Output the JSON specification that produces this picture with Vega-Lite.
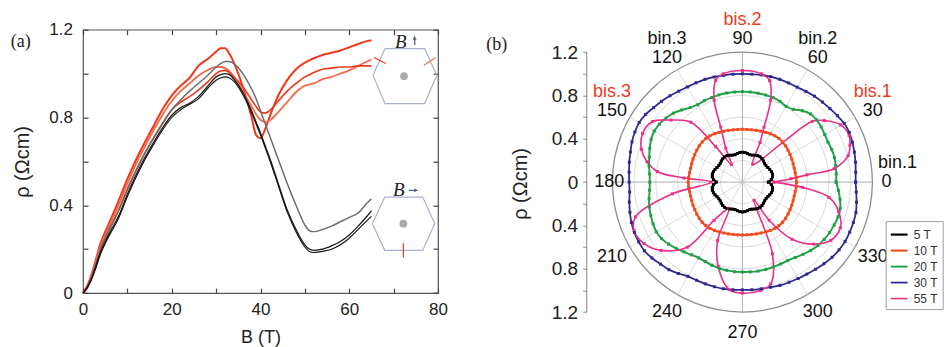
{
"$schema":"https://vega.github.io/schema/vega-lite/v6.json",
"background":"white",
"padding":{"left":10,"top":10.7,"right":0,"bottom":0},
"config":{"font":"Liberation Sans","view":{"stroke":null},"axis":{"labelFont":"Liberation Sans","titleFont":"Liberation Sans","labelColor":"#222","titleColor":"#222","titleFontWeight":"normal","grid":false,"tickColor":"#444"}},
"resolve":{"scale":{"color":"independent","strokeWidth":"independent","size":"independent"}},
"datasets":{
"rhoB":[
{"s":"R1","B":[0,1,2,3,4,5,6,8,10,12,14,16,18,20,22,24,26,28,30,31,32,33,34,36,38,39,40,41,42,44,46,48,50,51,52,54,56,58,60,62,64,65],"rho":[0,0.035,0.09,0.16,0.23,0.28,0.325,0.42,0.52,0.61,0.69,0.765,0.84,0.9,0.945,0.98,1.035,1.065,1.1,1.115,1.115,1.09,1.05,0.94,0.8,0.72,0.705,0.745,0.8,0.9,0.97,1.02,1.05,1.06,1.07,1.085,1.095,1.105,1.12,1.135,1.148,1.152]},
{"s":"R2","B":[0,1,2,3,4,5,6,8,10,12,14,16,18,20,22,24,26,28,30,31,32,33,34,36,38,39,40,41,42,44,46,48,50,51,52,54,56,58,60,62,64,65],"rho":[0,0.03,0.085,0.15,0.215,0.265,0.31,0.4,0.5,0.59,0.67,0.745,0.815,0.875,0.92,0.955,0.99,1.015,1.03,1.03,1.025,1.01,0.985,0.92,0.85,0.815,0.79,0.78,0.785,0.825,0.87,0.915,0.945,0.95,0.955,0.975,0.985,1.0,1.015,1.035,1.055,1.065]},
{"s":"R3","B":[0,1,2,3,4,5,6,8,10,12,14,16,18,20,22,24,26,28,30,31,32,33,34,36,38,39,40,41,42,44,46,48,50,51,52,54,56,58,60,62,64,65],"rho":[0,0.025,0.075,0.135,0.2,0.25,0.29,0.375,0.475,0.56,0.64,0.71,0.775,0.835,0.87,0.895,0.925,0.96,1.0,1.012,1.015,1.005,0.985,0.94,0.88,0.85,0.825,0.82,0.83,0.875,0.92,0.955,0.985,0.995,1.005,1.02,1.025,1.03,1.03,1.035,1.035,1.035]},
{"s":"G","B":[0,1,2,3,4,5,6,8,10,12,14,16,18,20,22,24,26,28,30,31,32,33,34,36,38,39,40,41,42,44,46,48,50,51,52,54,56,58,60,62,64,65],"rho":[0,0.03,0.075,0.14,0.2,0.25,0.295,0.375,0.47,0.56,0.64,0.71,0.775,0.835,0.88,0.92,0.955,0.99,1.03,1.045,1.055,1.055,1.045,1.0,0.93,0.885,0.83,0.775,0.72,0.61,0.5,0.4,0.31,0.285,0.28,0.29,0.305,0.325,0.345,0.365,0.41,0.43]},
{"s":"K2","B":[0,1,2,3,4,5,6,8,10,12,14,16,18,20,22,24,26,28,30,31,32,33,34,36,38,39,40,41,42,44,46,48,50,51,52,54,56,58,60,62,64,65],"rho":[0,0.03,0.07,0.13,0.19,0.235,0.275,0.35,0.45,0.54,0.62,0.69,0.755,0.81,0.845,0.865,0.895,0.94,0.985,0.995,1.0,0.995,0.975,0.915,0.83,0.78,0.73,0.675,0.62,0.5,0.38,0.29,0.22,0.2,0.195,0.2,0.215,0.235,0.265,0.305,0.35,0.375]},
{"s":"K1","B":[0,1,2,3,4,5,6,8,10,12,14,16,18,20,22,24,26,28,30,31,32,33,34,36,38,39,40,41,42,44,46,48,50,51,52,54,56,58,60,62,64,65],"rho":[0,0.025,0.065,0.12,0.18,0.225,0.265,0.34,0.44,0.53,0.61,0.68,0.745,0.8,0.835,0.86,0.885,0.93,0.97,0.98,0.985,0.98,0.965,0.905,0.82,0.77,0.72,0.665,0.61,0.49,0.37,0.28,0.21,0.19,0.185,0.19,0.2,0.22,0.25,0.29,0.33,0.35]}
],
"hex":[
{"h":1,"i":0,"hx":68.06,"hy":1.114},{"h":1,"i":1,"hx":77.0,"hy":1.114},{"h":1,"i":2,"hx":79.71,"hy":0.992},{"h":1,"i":3,"hx":77.0,"hy":0.863},{"h":1,"i":4,"hx":68.06,"hy":0.863},{"h":1,"i":5,"hx":65.35,"hy":0.992},{"h":1,"i":6,"hx":68.06,"hy":1.114},
{"h":2,"i":0,"hx":68.0,"hy":0.4375},{"h":2,"i":1,"hx":76.55,"hy":0.4375},{"h":2,"i":2,"hx":79.26,"hy":0.316},{"h":2,"i":3,"hx":76.55,"hy":0.1946},{"h":2,"i":4,"hx":68.0,"hy":0.1946},{"h":2,"i":5,"hx":65.21,"hy":0.316},{"h":2,"i":6,"hx":68.0,"hy":0.4375}
],
"hexdot":[{"cx":72.34,"cy":0.988},{"cx":72.2,"cy":0.316}],
"hexmark":[{"k":"r","xa":65.58,"ya":1.073,"xb":68.22,"yb":1.046},{"k":"p","xa":76.85,"ya":1.038,"xb":79.48,"yb":1.073},{"k":"g","xa":72.2,"ya":0.2265,"xb":72.2,"yb":0.1627}],
"blabel":[{"tx":71.6,"ty":1.144,"ax":74.74,"ay":1.152,"ang":0},{"tx":71.15,"ty":0.468,"ax":74.5,"ay":0.468,"ang":90}],
"rings":[{"rr":0.2},{"rr":0.4},{"rr":0.6},{"rr":0.8},{"rr":1.0},{"rr":1.2}],
"angles":[{"a":0,"t":"0"},{"a":30,"t":"30"},{"a":60,"t":"60"},{"a":90,"t":"90"},{"a":120,"t":"120"},{"a":150,"t":"150"},{"a":180,"t":"180"},{"a":210,"t":"210"},{"a":240,"t":"240"},{"a":270,"t":"270"},{"a":300,"t":"300"},{"a":330,"t":"330"}],
"ann":[{"a":30,"t":"bis.1"},{"a":60,"t":"bin.2"},{"a":90,"t":"bis.2"},{"a":120,"t":"bin.3"},{"a":150,"t":"bis.3"}],
"polar":[
{"s":"30 T","a":[0,5,10,15,20,25,30,35,40,45,50,55,60,65,70,75,80,85,90,95,100,105,110,115,120,125,130,135,140,145,150,155,160,165,170,175,180,185,190,195,200,205,210,215,220,225,230,235,240,245,250,255,260,265,270,275,280,285,290,295,300,305,310,315,320,325,330,335,340,345,350,355,360],"r":[1.045,1.05,1.06,1.07,1.08,1.088,1.085,1.07,1.055,1.045,1.035,1.022,1.012,1.01,1.01,1.008,1.005,1.0,1.0,1.0,1.0,1.005,1.01,1.012,1.015,1.025,1.04,1.055,1.07,1.09,1.1,1.095,1.085,1.07,1.06,1.05,1.045,1.045,1.06,1.075,1.09,1.1,1.105,1.105,1.09,1.07,1.055,1.03,1.005,1.0,1.0,1.0,1.0,0.998,0.995,0.998,1.0,1.005,1.015,1.02,1.028,1.037,1.05,1.065,1.08,1.09,1.095,1.093,1.09,1.085,1.07,1.055,1.045]},
{"s":"20 T","a":[0,5,10,15,20,25,30,35,40,45,50,55,60,65,70,75,80,85,90,95,100,105,110,115,120,125,130,135,140,145,150,155,160,165,170,175,180,185,190,195,200,205,210,215,220,225,230,235,240,245,250,255,260,265,270,275,280,285,290,295,300,305,310,315,320,325,330,335,340,345,350,355,360],"r":[0.865,0.87,0.875,0.88,0.878,0.872,0.878,0.888,0.893,0.89,0.86,0.82,0.808,0.822,0.83,0.832,0.833,0.835,0.835,0.835,0.835,0.833,0.83,0.83,0.825,0.84,0.87,0.9,0.92,0.935,0.94,0.93,0.91,0.89,0.875,0.86,0.855,0.86,0.875,0.89,0.9,0.91,0.918,0.91,0.89,0.865,0.84,0.82,0.808,0.81,0.818,0.825,0.827,0.83,0.83,0.832,0.834,0.834,0.834,0.834,0.836,0.85,0.87,0.892,0.91,0.922,0.93,0.935,0.94,0.935,0.915,0.89,0.865]},
{"s":"10 T","a":[0,5,10,15,20,25,30,35,40,45,50,55,60,65,70,75,80,85,90,95,100,105,110,115,120,125,130,135,140,145,150,155,160,165,170,175,180,185,190,195,200,205,210,215,220,225,230,235,240,245,250,255,260,265,270,275,280,285,290,295,300,305,310,315,320,325,330,335,340,345,350,355,360],"r":[0.5,0.498,0.495,0.495,0.498,0.503,0.508,0.514,0.52,0.524,0.525,0.522,0.515,0.507,0.5,0.495,0.49,0.488,0.488,0.488,0.49,0.495,0.5,0.507,0.515,0.522,0.525,0.524,0.52,0.514,0.508,0.503,0.498,0.495,0.495,0.498,0.5,0.498,0.495,0.495,0.498,0.503,0.508,0.514,0.52,0.524,0.525,0.522,0.515,0.507,0.5,0.495,0.49,0.488,0.488,0.488,0.49,0.495,0.5,0.507,0.515,0.522,0.525,0.524,0.52,0.514,0.508,0.503,0.498,0.495,0.495,0.498,0.5]},
{"s":"5 T","a":[0,5,10,15,20,25,30,35,40,45,50,55,60,65,70,75,80,85,90,95,100,105,110,115,120,125,130,135,140,145,150,155,160,165,170,175,180,185,190,195,200,205,210,215,220,225,230,235,240,245,250,255,260,265,270,275,280,285,290,295,300,305,310,315,320,325,330,335,340,345,350,355,360],"r":[0.24,0.268,0.282,0.287,0.285,0.278,0.27,0.266,0.268,0.275,0.282,0.285,0.282,0.274,0.265,0.262,0.268,0.274,0.276,0.274,0.268,0.262,0.265,0.274,0.282,0.285,0.282,0.275,0.268,0.266,0.27,0.278,0.285,0.287,0.282,0.268,0.24,0.268,0.282,0.287,0.285,0.278,0.27,0.266,0.268,0.275,0.282,0.285,0.282,0.274,0.265,0.262,0.268,0.274,0.276,0.274,0.268,0.262,0.265,0.274,0.282,0.285,0.282,0.275,0.268,0.266,0.27,0.278,0.285,0.287,0.282,0.268,0.24]},
{"s":"55 T","a":[0,4,6.4,8.3,14,19,23.6,30.2,37,41,44.5,60,66,68.5,71,75,80,90,100,104.7,109,111.5,116,122,127,130.7,139,146,154,162,168,173,176,180,189.5,198,204,212,220,229.8,233.5,243,247,254,263,270,279.6,285.6,292.7,302.5,305,311,319,326.6,335,343,350,355,360],"r":[0.29,0.45,0.6,0.855,1.006,1.05,1.075,1.05,0.945,0.855,0.52,0.19,0.4,0.545,0.8,0.97,1.015,1.03,1.015,0.97,0.8,0.545,0.35,0.19,0.41,0.73,0.873,1.0,1.025,0.98,0.9,0.79,0.54,0.29,0.655,1.037,1.095,1.07,0.98,0.786,0.44,0.275,0.585,0.81,1.0,1.025,1.014,0.975,0.718,0.2,0.43,0.698,0.873,0.977,0.998,0.93,0.812,0.556,0.29]}
]
},
"hconcat":[
{
"width":355,"height":263.4,
"view":{"stroke":"#555","strokeWidth":1.2},
"resolve":{"axis":{"x":"independent","y":"independent"}},
"layer":[
{"data":{"name":"rhoB"},"transform":[{"flatten":["B","rho"]}],
"mark":{"type":"line","interpolate":"monotone"},
"encoding":{
"x":{"field":"B","type":"quantitative","scale":{"domain":[0,80],"nice":false,"zero":false},"axis":{"values":[0,10,20,30,40,50,60,70,80],"labelExpr":"datum.value % 20 == 0 ? datum.label : ''","domain":false,"offset":-5,"tickSize":5,"tickWidth":1.2,"labelPadding":8.8,"labelFontSize":17,"labelFlush":false,"labelOverlap":false,"title":"B (T)","titleFontSize":18,"titlePadding":11}},
"y":{"field":"rho","type":"quantitative","scale":{"domain":[0,1.2],"nice":false,"zero":false},"axis":{"values":[0,0.2,0.4,0.6,0.8,1,1.2],"labelExpr":"round(datum.value*10) % 4 == 0 ? (datum.value == 0 ? '0' : format(datum.value,'.1f')) : ''","domain":false,"offset":-5,"tickSize":5,"tickWidth":1.2,"labelPadding":10.6,"labelFontSize":17,"labelOverlap":false,"title":"ρ (Ωcm)","titleFontSize":20,"titlePadding":16.4}},
"color":{"field":"s","type":"nominal","scale":{"domain":["R1","R2","R3","G","K2","K1"],"range":["#f0391c","#f36b4c","#ec3a1f","#6b6b6b","#1a1a1a","#111111"]},"legend":null},
"strokeWidth":{"field":"s","type":"nominal","scale":{"domain":["R1","R2","R3","G","K2","K1"],"range":[2.0,1.1,2.0,1.2,2.2,2.4]},"legend":null}
}},
{"data":{"name":"hex"},
"mark":{"type":"line","color":"#a9b0cc","strokeWidth":1.2},
"encoding":{
"x":{"field":"hx","type":"quantitative","scale":{"domain":[0,80],"nice":false,"zero":false},"axis":{"orient":"top","values":[0,10,20,30,40,50,60,70,80],"labels":false,"domain":false,"offset":-5,"tickSize":5,"tickWidth":1.2,"title":null}},
"y":{"field":"hy","type":"quantitative","scale":{"domain":[0,1.2],"nice":false,"zero":false},"axis":{"orient":"right","values":[0,0.2,0.4,0.6,0.8,1,1.2],"labels":false,"domain":false,"offset":-5,"tickSize":5,"tickWidth":1.2,"title":null}},
"detail":{"field":"h","type":"nominal"},
"order":{"field":"i","type":"quantitative"}
}},
{"data":{"name":"hexdot"},
"mark":{"type":"point","filled":true,"color":"#aaaaaa","size":60,"opacity":1},
"encoding":{
"x":{"field":"cx","type":"quantitative","axis":null},
"y":{"field":"cy","type":"quantitative","axis":null}
}},
{"data":{"name":"hexmark"},
"mark":{"type":"rule","strokeWidth":1.2},
"encoding":{
"x":{"field":"xa","type":"quantitative","axis":null},
"y":{"field":"ya","type":"quantitative","axis":null},
"x2":{"field":"xb"},"y2":{"field":"yb"},
"color":{"field":"k","type":"nominal","scale":{"domain":["r","p","g"],"range":["#f0502a","#4b3c9a","#3fae5a"]},"legend":null}
}},
{"data":{"name":"blabel"},
"mark":{"type":"text","text":"B","font":"Liberation Serif","fontStyle":"italic","fontSize":19,"color":"#222"},
"encoding":{
"x":{"field":"tx","type":"quantitative","axis":null},
"y":{"field":"ty","type":"quantitative","axis":null}
}},
{"data":{"name":"blabel"},
"mark":{"type":"point","shape":"arrow","filled":true,"color":"#5a6490","size":90,"opacity":1,"strokeWidth":1.5},
"encoding":{
"x":{"field":"ax","type":"quantitative","axis":null},
"y":{"field":"ay","type":"quantitative","axis":null},
"angle":{"field":"ang","type":"quantitative","scale":null}
}},
{"data":{"values":[{"t":"(a)","px":-14.04,"py":1.143}]},
"mark":{"type":"text","font":"Liberation Serif","fontSize":18,"color":"#222"},
"encoding":{
"x":{"field":"px","type":"quantitative","axis":null},
"y":{"field":"py","type":"quantitative","axis":null},
"text":{"field":"t"}
}}
]
},
{
"width":260,"height":282.4,
"view":{"stroke":null},
"resolve":{"axis":{"x":"independent","y":"independent"}},
"layer":[
{"data":{"name":"rings"},
"transform":[{"calculate":"0","as":"c0"}],
"mark":{"type":"point","shape":"circle","filled":false,"opacity":1},
"encoding":{
"x":{"field":"c0","type":"quantitative","scale":{"domain":[-1.2,1.2],"nice":false,"zero":false},"axis":null},
"y":{"field":"c0","type":"quantitative","scale":{"domain":[-1.2,1.407],"nice":false,"zero":false},"axis":null},
"size":{"field":"rr","type":"quantitative","scale":{"type":"pow","exponent":2,"domain":[0,1.2],"range":[0,67600],"zero":true},"legend":null},
"stroke":{"condition":{"test":"datum.rr > 1.1","value":"#8c8c8c"},"value":"#d0d0d0"},
"strokeWidth":{"condition":{"test":"datum.rr > 1.1","value":1.3},"value":0.8}
}},
{"data":{"name":"angles"},
"transform":[{"calculate":"0","as":"c0"},{"calculate":"1.2*cos(datum.a*PI/180)","as":"rx"},{"calculate":"1.2*sin(datum.a*PI/180)","as":"ry"}],
"mark":{"type":"rule","strokeWidth":0.8},
"encoding":{
"x":{"field":"c0","type":"quantitative","axis":null},
"y":{"field":"c0","type":"quantitative","axis":null},
"x2":{"field":"rx"},"y2":{"field":"ry"},
"color":{"condition":{"test":"datum.a % 90 == 0","value":"#9a9a9a"},"value":"#d2d2d2"}
}},
{"data":{"values":[{"ax":-1.437,"ya":-1.2,"yb":1.2}]},
"mark":{"type":"rule","color":"#888","strokeWidth":1},
"encoding":{
"x":{"field":"ax","type":"quantitative","axis":null},
"y":{"field":"ya","type":"quantitative","axis":null},
"y2":{"field":"yb"}
}},
{"data":{"name":"polar"},
"transform":[{"flatten":["a","r"]},{"calculate":"datum.r*cos(datum.a*PI/180)","as":"x"},{"calculate":"datum.r*sin(datum.a*PI/180)","as":"y"}],
"mark":{"type":"line","interpolate":"catmull-rom","point":{"shape":"square","size":9,"filled":true}},
"encoding":{
"x":{"field":"x","type":"quantitative","scale":{"domain":[-1.2,1.2],"nice":false,"zero":false},"axis":null},
"y":{"field":"y","type":"quantitative","scale":{"domain":[-1.2,1.407],"nice":false,"zero":false},"axis":{"values":[-1.2,-1,-0.8,-0.6,-0.4,-0.2,0,0.2,0.4,0.6,0.8,1,1.2],"labelExpr":"round(abs(datum.value)*10) % 4 == 0 ? (abs(datum.value) < 0.01 ? '0' : format(abs(datum.value),'.1f')) : ''","offset":25.7,"domain":false,"tickSize":4,"tickColor":"#888","labelPadding":5,"labelFontSize":19,"labelOverlap":false,"title":"ρ (Ωcm)","titleFontSize":20,"titlePadding":20.6,"titleY":153.7}},
"order":{"field":"a","type":"quantitative"},
"color":{"field":"s","type":"nominal","scale":{"domain":["5 T","10 T","20 T","30 T","55 T"],"range":["#000000","#f04a1e","#1fa046","#2d2a8c","#ea2f86"]},"legend":{"orient":"none","legendX":273.3,"legendY":191.4,"title":null,"symbolType":"stroke","symbolSize":280,"symbolStrokeWidth":2.2,"labelFontSize":12,"labelFont":"Liberation Sans","labelColor":"#333","rowPadding":0,"padding":4,"strokeColor":"#a0a0a0","fillColor":"#ffffff","labelOffset":5}},
"strokeWidth":{"field":"s","type":"nominal","scale":{"domain":["5 T","10 T","20 T","30 T","55 T"],"range":[2.2,1.6,1.5,1.5,1.4]},"legend":null}
}},
{"data":{"name":"angles"},
"transform":[{"calculate":"cos(datum.a*PI/180)","as":"ca"},{"calculate":"sin(datum.a*PI/180)","as":"sa"},{"calculate":"abs(datum.ca) > 0.99 ? (datum.ca > 0 ? 1.33 : -1.23) : 1.39*datum.ca","as":"lx"},{"calculate":"datum.sa*(datum.sa > 0 ? 1.32 : 1.39)","as":"ly"}],
"mark":{"type":"text","fontSize":18,"color":"#111"},
"encoding":{
"x":{"field":"lx","type":"quantitative","axis":null},
"y":{"field":"ly","type":"quantitative","axis":null},
"text":{"field":"t"}
}},
{"data":{"name":"ann"},
"transform":[{"calculate":"cos(datum.a*PI/180)","as":"ca"},{"calculate":"sin(datum.a*PI/180)","as":"sa"},{"calculate":"1.39*datum.ca","as":"lx"},{"calculate":"datum.sa*1.32","as":"ly"}],
"mark":{"type":"text","fontSize":18,"dy":-19},
"encoding":{
"x":{"field":"lx","type":"quantitative","axis":null},
"y":{"field":"ly","type":"quantitative","axis":null},
"text":{"field":"t"},
"color":{"condition":{"test":"indexof(datum.t,'bis') == 0","value":"#ee3a22"},"value":"#111"}
}},
{"data":{"values":[{"t":"bin.1","lx":1.33,"ly":0}]},
"mark":{"type":"text","fontSize":18,"dy":-19,"dx":11,"color":"#111"},
"encoding":{
"x":{"field":"lx","type":"quantitative","axis":null},
"y":{"field":"ly","type":"quantitative","axis":null},
"text":{"field":"t"}
}},
{"data":{"values":[{"t":"(b)","lx":-2.268,"ly":1.262}]},
"mark":{"type":"text","font":"Liberation Serif","fontSize":18,"color":"#222"},
"encoding":{
"x":{"field":"lx","type":"quantitative","axis":null},
"y":{"field":"ly","type":"quantitative","axis":null},
"text":{"field":"t"}
}}
]
}
],
"spacing":174.4,
"bounds":"flush"
}
